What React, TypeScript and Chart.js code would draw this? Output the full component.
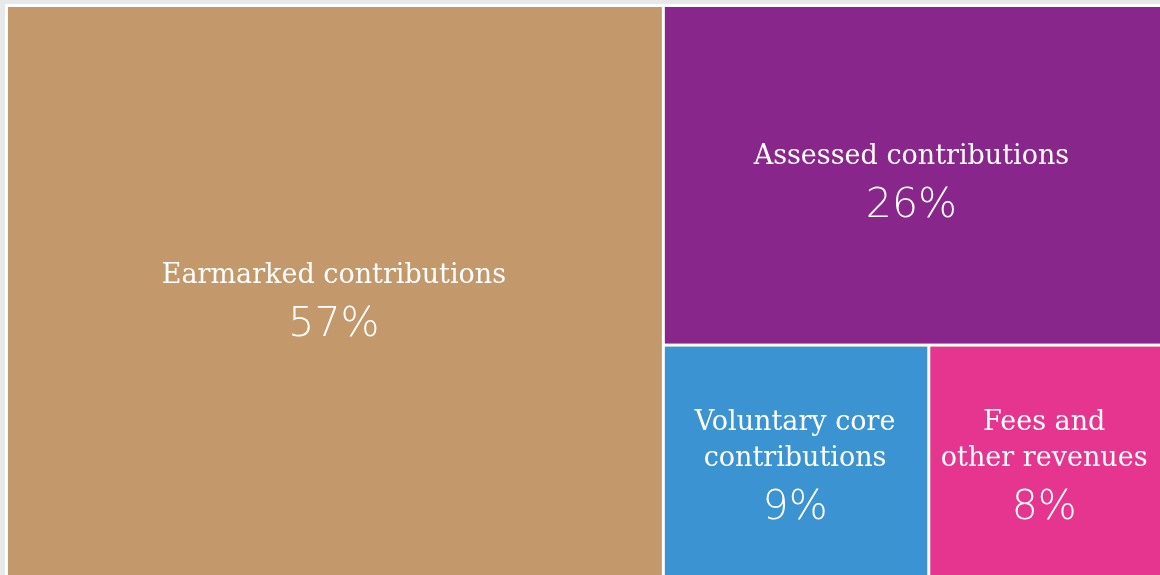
import React, { useEffect, useRef } from "react";
import { Chart, registerables } from "chart.js";

Chart.register(...registerables);

// ---- data ----
const categories: string[][] = [
  ["Earmarked contributions"],
  ["Assessed contributions"],
  ["Voluntary core", "contributions"],
  ["Fees and", "other revenues"],
];
const shares: number[] = [57.0, 25.7, 9.3, 8.1];
const percentLabels: string[] = ["57%", "26%", "9%", "8%"];
const colors: string[] = ["#C3996B", "#89268B", "#3C93D1", "#E6358F"];

type Tile = { i: number; x0: number; y0: number; x1: number; y1: number };

// squarified treemap in value space (0..100 x 0..100), aspect via pixel factors
function squarify(values: number[], kx: number, ky: number): Tile[] {
  const total = values.reduce((a, b) => a + b, 0);
  const items = values
    .map((v, i) => ({ i, a: (v / total) * 100 * 100 }))
    .sort((p, q) => q.a - p.a);
  const out: Tile[] = [];
  let x0 = 0, y0 = 0, x1 = 100, y1 = 100;
  let rest = items.slice();
  const worst = (row: { a: number }[], side: number, vertical: boolean) => {
    const sum = row.reduce((s, r) => s + r.a, 0);
    const thick = sum / side;
    let w = 0;
    for (const r of row) {
      const len = r.a / thick;
      const pw = vertical ? thick * kx : len * kx;
      const ph = vertical ? len * ky : thick * ky;
      w = Math.max(w, pw / ph, ph / pw);
    }
    return w;
  };
  while (rest.length) {
    const wPx = (x1 - x0) * kx;
    const hPx = (y1 - y0) * ky;
    const vertical = wPx >= hPx;
    const side = vertical ? y1 - y0 : x1 - x0;
    let row = [rest[0]];
    let k = 1;
    while (k < rest.length) {
      const cand = row.concat([rest[k]]);
      if (worst(cand, side, vertical) <= worst(row, side, vertical)) {
        row = cand;
        k++;
      } else break;
    }
    rest = rest.slice(row.length);
    const sum = row.reduce((s, r) => s + r.a, 0);
    const thick = sum / side;
    let pos = vertical ? y0 : x0;
    for (const r of row) {
      const len = r.a / thick;
      if (vertical) {
        out.push({ i: r.i, x0, y0: pos, x1: x0 + thick, y1: pos + len });
      } else {
        out.push({ i: r.i, x0: pos, y0, x1: pos + len, y1: y0 + thick });
      }
      pos += len;
    }
    if (vertical) x0 += thick;
    else y0 += thick;
  }
  return out;
}

const GAP = 3;
const NAME_FONT = "27px 'DejaVu Serif'";
const PCT_FONT = "300 41px 'DejaVu Sans'";

const treemapPlugin = {
  id: "treemapTiles",
  beforeDatasetsDraw(chart: any) {
    const { ctx, chartArea, scales } = chart;
    const xs = scales.x, ys = scales.y;
    const kx = chartArea.width / 100, ky = chartArea.height / 100;
    const tiles = squarify(shares, kx, ky);
    ctx.save();
    for (const t of tiles) {
      const px0 = xs.getPixelForValue(t.x0) + GAP / 2;
      const px1 = t.x1 >= 99.999 ? chartArea.right : xs.getPixelForValue(t.x1) - GAP / 2;
      const py0 = ys.getPixelForValue(t.y0) + GAP / 2;
      const py1 = t.y1 >= 99.999 ? chartArea.bottom : ys.getPixelForValue(t.y1) - GAP / 2;
      ctx.fillStyle = colors[t.i];
      ctx.fillRect(px0, py0, px1 - px0, py1 - py0);

      const lines = categories[t.i];
      const lineH = 36;
      const pctGap = 53;
      const capH = 20;
      const blockH = capH + (lines.length - 1) * lineH + pctGap;
      const cx = (px0 + px1) / 2 - 1;
      const centerY = py0 + (py1 - py0) * 0.515;
      const firstBase = centerY - blockH / 2 + capH;
      ctx.fillStyle = "#ffffff";
      ctx.textAlign = "center";
      ctx.textBaseline = "alphabetic";
      ctx.font = NAME_FONT;
      lines.forEach((ln, j) => ctx.fillText(ln, cx, firstBase + j * lineH));
      ctx.font = PCT_FONT;
      ctx.fillText(percentLabels[t.i], cx, firstBase + (lines.length - 1) * lineH + pctGap);
    }
    ctx.restore();
  },
};

export default function App() {
  const ref = useRef<HTMLCanvasElement | null>(null);
  useEffect(() => {
    if (!ref.current) return;
    const chart = new Chart(ref.current, {
      type: "scatter",
      data: {
        labels: categories.map((c) => c.join(" ")),
        datasets: [{ data: [], showLine: false }],
      },
      options: {
        animation: false,
        responsive: true,
        maintainAspectRatio: false,
        layout: { padding: { left: 1.5, top: 1.5, right: 0, bottom: 0 } },
        plugins: { legend: { display: false }, tooltip: { enabled: false } },
        scales: {
          x: { type: "linear", min: 0, max: 100, display: false },
          y: { type: "linear", min: 0, max: 100, display: false, reverse: true },
        },
      },
      plugins: [treemapPlugin],
    });
    return () => chart.destroy();
  }, []);
  return (
    <div style={{ position: "fixed", inset: 0, background: "#e7e8e9", overflow: "hidden" }}>
      <div style={{ position: "absolute", left: 5, top: 4, right: 0, bottom: 0, background: "#ffffff" }}>
        <canvas ref={ref} />
      </div>
    </div>
  );
}
